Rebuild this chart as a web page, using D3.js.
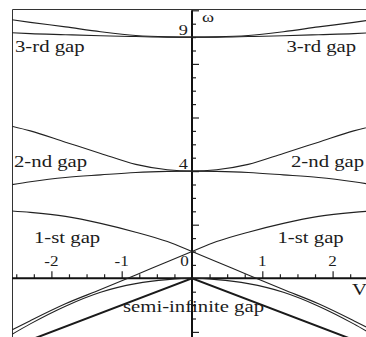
<!DOCTYPE html>
<html>
<head>
<meta charset="utf-8">
<script src="https://cdn.jsdelivr.net/npm/d3@7"></script>
<style>
body { margin: 0; background: #fff; }
svg { display: block; background: #fff; }
</style>
</head>
<body>
<svg id="svgarea" width="366" height="337"></svg>
<script>
// band edges omega(V)
const vEdge		= [-2.6, -2.3, -1.8, -1.3, -0.8, -0.35, 0, 0.35, 0.8, 1.3, 1.8, 2.3, 2.6];
const wSemi		= [-2.15, -1.7, -1.04, -0.52, -0.2, -0.05, 0, -0.05, -0.2, -0.52, -1.04, -1.7, -2.15];
const wFirstA	= [2.52, 2.46, 2.31, 2.05, 1.72, 1.37, 1.0, 0.62, 0.12, -0.42, -0.95, -1.58, -1.98];
const wFirstB	= [-1.98, -1.58, -0.95, -0.42, 0.12, 0.62, 1.0, 1.37, 1.72, 2.05, 2.31, 2.46, 2.52];
const wSecondUp	= [5.7, 5.5, 5.08, 4.66, 4.25, 4.05, 4.0, 4.05, 4.25, 4.66, 5.08, 5.5, 5.7];
const wSecondLo	= [3.48, 3.6, 3.76, 3.86, 3.95, 3.99, 4.0, 3.99, 3.95, 3.86, 3.76, 3.6, 3.48];
const wThirdUp	= [9.66, 9.55, 9.38, 9.2, 9.06, 9.01, 9.0, 9.01, 9.06, 9.2, 9.38, 9.55, 9.66];
const wThirdLo	= [9.17, 9.13, 9.09, 9.05, 9.02, 9.0, 9.0, 9.0, 9.02, 9.05, 9.09, 9.13, 9.17];
// bottom of the potential
const vWall		= [-2.6, 0, 2.6];
const wWall		= [-2.6, 0, -2.6];

const xTickValues	= [-2, -1, 0, 1, 2];
const xTickLabels	= ['-2', '-1', '0', '1', '2'];
const yTickValues	= [9, 4];
const yTickLabels	= ['9', '4'];
const gapLabels		= ['3-rd gap', '2-nd gap', '1-st gap', 'semi-infinite gap'];

const stretch = 1.22;
const fontName = "'Liberation Serif', 'Times New Roman', serif";
const svg = d3.select('#svgarea');
const x = d3.scaleLinear().domain([-2.5, 2.5]).range([16.25, 367.75]);
const y = d3.scaleLinear().domain([0, 10]).range([278.3, 10.3]);

svg.append('defs').append('clipPath').attr('id', 'cut-box')
	.append('rect').attr('x', 12).attr('y', 9).attr('width', 354).attr('height', 328);

// frame (only top and left remain in the crop)
svg.append('path').attr('d', 'M12.5,337 V9.5 H366')
	.attr('fill', 'none').attr('stroke', '#333').attr('stroke-width', 1);

// minor / major ticks
function ticks(axis, values, size, tx, ty){
	const g = svg.append('g').attr('transform', 'translate(' + tx + ',' + ty + ')')
		.call(axis.tickValues(values).tickSize(size).tickFormat(''));
	g.select('.domain').remove();
	g.selectAll('line').attr('stroke', '#222').attr('stroke-width', 1.2);
}
const xMinor = d3.range(-10, 11).map(i => i * 0.25).filter(v => v !== 0 && v % 1 !== 0);
const xMajor = xTickValues.filter(v => v !== 0);
const yMinor = d3.range(-4, 21).map(i => i * 0.5).filter(v => v !== 0 && v % 2 !== 0);
const yMajor = [-2, 2, 4, 6, 8, 10];
ticks(d3.axisTop(x), xMinor, 4, 0, y(0));
ticks(d3.axisTop(x), xMajor, 7, 0, y(0));
ticks(d3.axisRight(y), yMinor, 4, x(0), 0);
ticks(d3.axisRight(y), yMajor, 7, x(0), 0);

// axes
svg.append('line').attr('x1', x(0)).attr('x2', x(0)).attr('y1', y(10)).attr('y2', 337)
	.attr('stroke', '#111').attr('stroke-width', 2);
svg.append('line').attr('x1', 12).attr('x2', 366).attr('y1', y(0)).attr('y2', y(0))
	.attr('stroke', '#111').attr('stroke-width', 2);

// curves
const line = d3.line().x(d => x(d[0])).y(d => y(d[1])).curve(d3.curveMonotoneX);
const plot = svg.append('g').attr('clip-path', 'url(#cut-box)');
[wSemi, wFirstA, wFirstB, wSecondUp, wSecondLo, wThirdUp, wThirdLo].forEach(function(w){
	plot.append('path').attr('d', line(d3.zip(vEdge, w)))
		.attr('fill', 'none').attr('stroke', '#222').attr('stroke-width', 1.1);
});
plot.append('path').attr('d', d3.line().x(d => x(d[0])).y(d => y(d[1]))(d3.zip(vWall, wWall)))
	.attr('fill', 'none').attr('stroke', '#1a1a1a').attr('stroke-width', 2);

// texts
function label(str, px, py, size, anchor){
	return svg.append('text')
		.attr('transform', 'translate(' + px + ',' + py + ') scale(' + stretch + ',1)')
		.attr('font-family', fontName).attr('fill', '#1c1c1c')
		.attr('font-size', size).attr('text-anchor', anchor || 'start').text(str);
}
xTickValues.forEach(function(v, i){
	const px = v === 0 ? x(0) - 7.5 : x(v);
	label(xTickLabels[i], px, y(0) - 12, 14, 'middle');
});
yTickValues.forEach(function(v, i){
	label(yTickLabels[i], x(0) - 4, y(v) - 2.5, 15, 'end');
});
label(gapLabels[0], 15, 51.7, 17);
label(gapLabels[0], 286.5, 51.7, 17);
label(gapLabels[1], 14, 167.3, 17);
label(gapLabels[1], 291, 167.3, 17);
label(gapLabels[2], 34, 243.3, 17);
label(gapLabels[2], 277.5, 243.3, 17);
label(gapLabels[3], 123, 311.7, 17);
label('\u03c9', 202, 21.7, 15);
const vLab = label('V', 352, 295, 17);
vLab.append('tspan').attr('font-size', 12).attr('dy', 4).text('0');
</script>
</body>
</html>
